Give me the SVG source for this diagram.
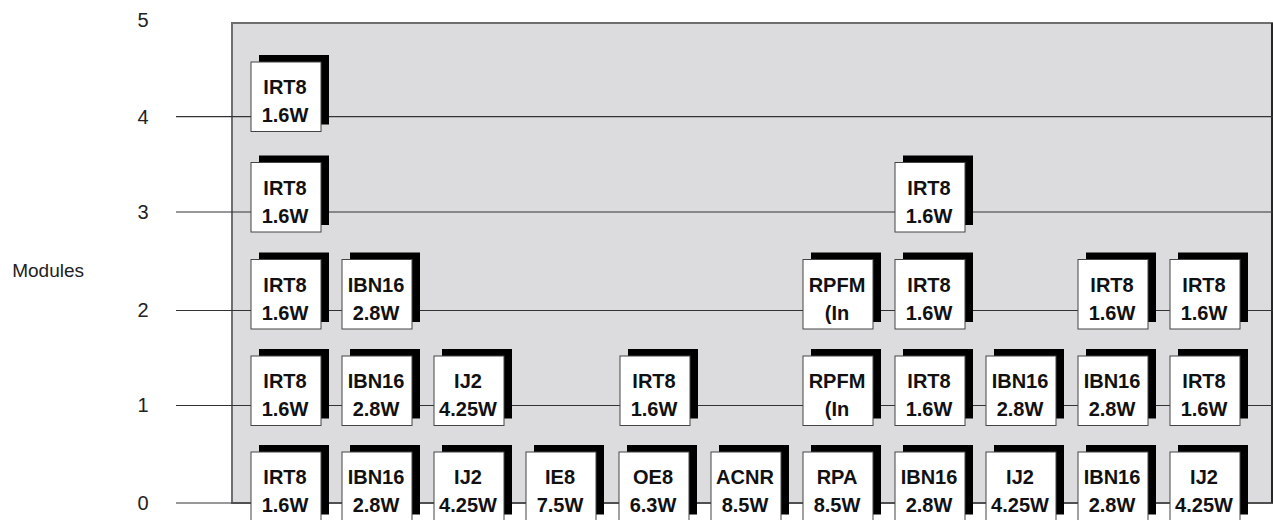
<svg xmlns="http://www.w3.org/2000/svg" width="1273" height="520" viewBox="0 0 1273 520">
<style>
.axis{font-family:"Liberation Sans",Arial,sans-serif;font-size:20px;fill:#222;text-anchor:middle}
.lbl{font-family:"Liberation Sans",Arial,sans-serif;font-size:19px;fill:#222;text-anchor:end}
.lvl{stroke:#333;stroke-width:1.2;fill:none}
.sh{fill:#000}
.bx{fill:#fff;stroke:#444;stroke-width:1}
.t{font-family:"Liberation Sans",Arial,sans-serif;font-size:20px;font-weight:bold;fill:#111;text-anchor:middle}
</style>
<defs>
<g id="box">
<rect class="sh" x="8" y="-7" width="70" height="69.5"/>
<rect class="bx" x="0" y="0" width="70" height="69.5"/>
</g>
</defs>
<rect id="panel" x="232" y="23" width="1040" height="480" fill="#dcdcde" stroke="#6e6e6e" stroke-width="2"/>
<line x1="1272" y1="23" x2="1272" y2="503" stroke="#111" stroke-width="1.5"/>
<g id="axis">
<text class="axis" x="143" y="27">5</text>
<text class="axis" x="143" y="123.5">4</text>
<text class="axis" x="143" y="219">3</text>
<text class="axis" x="143" y="317">2</text>
<text class="axis" x="143" y="412">1</text>
<text class="axis" x="143" y="510">0</text>
<text class="lbl" x="84" y="277">Modules</text>
</g>
<g id="connectors">
<line class="lvl" x1="176" y1="116.7" x2="1273" y2="116.7"/>
<line class="lvl" x1="176" y1="212" x2="1273" y2="212"/>
<line class="lvl" x1="176" y1="310.5" x2="1273" y2="310.5"/>
<line class="lvl" x1="176" y1="405.5" x2="1273" y2="405.5"/>
<line class="lvl" x1="176" y1="503" x2="1273" y2="503"/>
</g>
<g id="r4c0" transform="translate(251,62)"><use href="#box"/><text class="t" x="34" y="32.3">IRT8</text><text class="t" x="34" y="60">1.6W</text></g>
<g id="r3c0" transform="translate(251,162.5)"><use href="#box"/><text class="t" x="34" y="32.3">IRT8</text><text class="t" x="34" y="60">1.6W</text></g>
<g id="r3c7" transform="translate(895,162.5)"><use href="#box"/><text class="t" x="34" y="32.3">IRT8</text><text class="t" x="34" y="60">1.6W</text></g>
<g id="r2c0" transform="translate(251,259.5)"><use href="#box"/><text class="t" x="34" y="32.3">IRT8</text><text class="t" x="34" y="60">1.6W</text></g>
<g id="r2c1" transform="translate(342,259.5)"><use href="#box"/><text class="t" x="34" y="32.3">IBN16</text><text class="t" x="34" y="60">2.8W</text></g>
<g id="r2c6" transform="translate(803,259.5)"><use href="#box"/><text class="t" x="34" y="32.3">RPFM</text><text class="t" x="34" y="60">(In</text></g>
<g id="r2c7" transform="translate(895,259.5)"><use href="#box"/><text class="t" x="34" y="32.3">IRT8</text><text class="t" x="34" y="60">1.6W</text></g>
<g id="r2c9" transform="translate(1078,259.5)"><use href="#box"/><text class="t" x="34" y="32.3">IRT8</text><text class="t" x="34" y="60">1.6W</text></g>
<g id="r2c10" transform="translate(1170,259.5)"><use href="#box"/><text class="t" x="34" y="32.3">IRT8</text><text class="t" x="34" y="60">1.6W</text></g>
<g id="r1c0" transform="translate(251,356)"><use href="#box"/><text class="t" x="34" y="32.3">IRT8</text><text class="t" x="34" y="60">1.6W</text></g>
<g id="r1c1" transform="translate(342,356)"><use href="#box"/><text class="t" x="34" y="32.3">IBN16</text><text class="t" x="34" y="60">2.8W</text></g>
<g id="r1c2" transform="translate(434,356)"><use href="#box"/><text class="t" x="34" y="32.3">IJ2</text><text class="t" x="34" y="60">4.25W</text></g>
<g id="r1c4" transform="translate(620,356)"><use href="#box"/><text class="t" x="34" y="32.3">IRT8</text><text class="t" x="34" y="60">1.6W</text></g>
<g id="r1c6" transform="translate(803,356)"><use href="#box"/><text class="t" x="34" y="32.3">RPFM</text><text class="t" x="34" y="60">(In</text></g>
<g id="r1c7" transform="translate(895,356)"><use href="#box"/><text class="t" x="34" y="32.3">IRT8</text><text class="t" x="34" y="60">1.6W</text></g>
<g id="r1c8" transform="translate(986,356)"><use href="#box"/><text class="t" x="34" y="32.3">IBN16</text><text class="t" x="34" y="60">2.8W</text></g>
<g id="r1c9" transform="translate(1078,356)"><use href="#box"/><text class="t" x="34" y="32.3">IBN16</text><text class="t" x="34" y="60">2.8W</text></g>
<g id="r1c10" transform="translate(1170,356)"><use href="#box"/><text class="t" x="34" y="32.3">IRT8</text><text class="t" x="34" y="60">1.6W</text></g>
<g id="r0c0" transform="translate(251,452)"><use href="#box"/><text class="t" x="34" y="32.3">IRT8</text><text class="t" x="34" y="60">1.6W</text></g>
<g id="r0c1" transform="translate(342,452)"><use href="#box"/><text class="t" x="34" y="32.3">IBN16</text><text class="t" x="34" y="60">2.8W</text></g>
<g id="r0c2" transform="translate(434,452)"><use href="#box"/><text class="t" x="34" y="32.3">IJ2</text><text class="t" x="34" y="60">4.25W</text></g>
<g id="r0c3" transform="translate(526,452)"><use href="#box"/><text class="t" x="34" y="32.3">IE8</text><text class="t" x="34" y="60">7.5W</text></g>
<g id="r0c4" transform="translate(619,452)"><use href="#box"/><text class="t" x="34" y="32.3">OE8</text><text class="t" x="34" y="60">6.3W</text></g>
<g id="r0c5" transform="translate(711,452)"><use href="#box"/><text class="t" x="34" y="32.3">ACNR</text><text class="t" x="34" y="60">8.5W</text></g>
<g id="r0c6" transform="translate(803,452)"><use href="#box"/><text class="t" x="34" y="32.3">RPA</text><text class="t" x="34" y="60">8.5W</text></g>
<g id="r0c7" transform="translate(895,452)"><use href="#box"/><text class="t" x="34" y="32.3">IBN16</text><text class="t" x="34" y="60">2.8W</text></g>
<g id="r0c8" transform="translate(986,452)"><use href="#box"/><text class="t" x="34" y="32.3">IJ2</text><text class="t" x="34" y="60">4.25W</text></g>
<g id="r0c9" transform="translate(1078,452)"><use href="#box"/><text class="t" x="34" y="32.3">IBN16</text><text class="t" x="34" y="60">2.8W</text></g>
<g id="r0c10" transform="translate(1170,452)"><use href="#box"/><text class="t" x="34" y="32.3">IJ2</text><text class="t" x="34" y="60">4.25W</text></g>
</svg>
